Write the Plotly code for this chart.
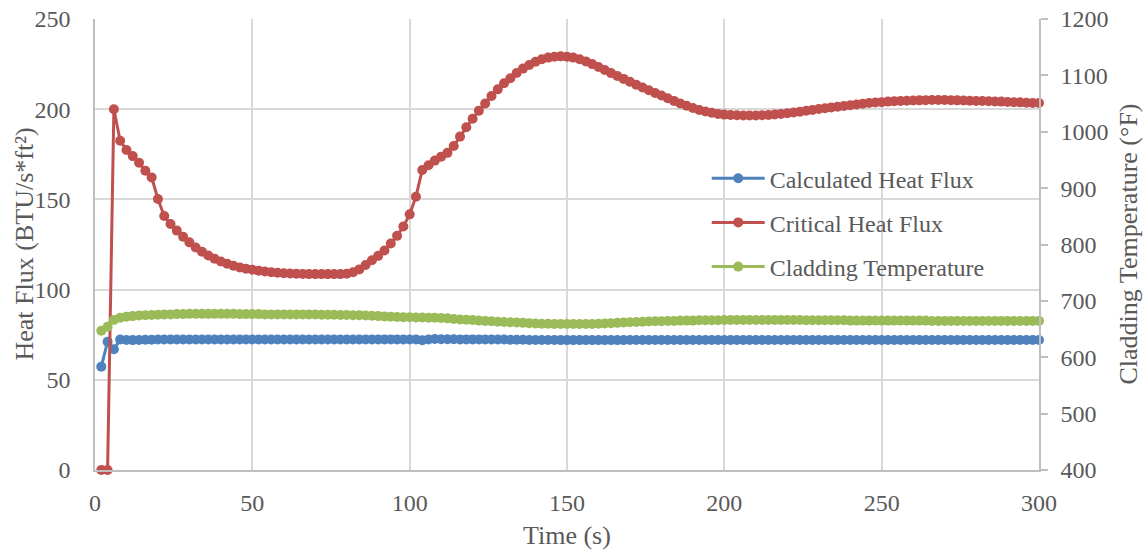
import plotly.graph_objects as go

# Time stamps (s), one sample every 2 s
time_s = list(range(2, 301, 2))

# Calculated heat flux (BTU/s*ft2)
calc_flux = [
    57.3, 71.1, 66.9, 72.3, 72.1, 72.0, 72.1, 72.2, 72.2, 72.3,
    72.3, 72.3, 72.3, 72.3, 72.3, 72.3, 72.3, 72.3, 72.3, 72.3,
    72.3, 72.3, 72.3, 72.3, 72.3, 72.3, 72.3, 72.3, 72.3, 72.3,
    72.3, 72.3, 72.3, 72.3, 72.3, 72.3, 72.3, 72.3, 72.3, 72.3,
    72.3, 72.3, 72.3, 72.4, 72.4, 72.4, 72.4, 72.4, 72.3, 72.3,
    72.3, 71.9, 72.4, 72.6, 72.5, 72.5, 72.5, 72.4, 72.4, 72.4,
    72.4, 72.4, 72.3, 72.3, 72.3, 72.2, 72.2, 72.2, 72.1, 72.1,
    72.1, 72.1, 72.1, 72.0, 72.0, 72.0, 72.0, 72.0, 72.0, 72.0,
    72.0, 72.0, 72.0, 72.0, 72.1, 72.1, 72.1, 72.1, 72.1, 72.1,
    72.1, 72.1, 72.1, 72.1, 72.1, 72.1, 72.1, 72.1, 72.1, 72.1,
    72.1, 72.1, 72.1, 72.1, 72.1, 72.1, 72.1, 72.1, 72.1, 72.1,
    72.1, 72.1, 72.1, 72.1, 72.1, 72.1, 72.1, 72.1, 72.1, 72.1,
    72.1, 72.1, 72.1, 72.1, 72.1, 72.1, 72.1, 72.1, 72.1, 72.1,
    72.1, 72.1, 72.1, 72.1, 72.1, 72.1, 72.1, 72.1, 72.1, 72.1,
    72.1, 72.1, 72.1, 72.1, 72.1, 72.1, 72.1, 72.1, 72.1, 72.1,
]

# Critical heat flux (BTU/s*ft2)
crit_flux = [
    0.0, 0.0, 200.0, 182.5, 177.4, 174.0, 170.3, 165.9, 162.2, 150.2,
    140.8, 136.4, 132.7, 129.3, 126.2, 123.3, 121.0, 118.9, 117.1, 115.6,
    114.3, 113.2, 112.3, 111.6, 111.0, 110.5, 110.0, 109.6, 109.3, 109.1,
    108.9, 108.8, 108.7, 108.6, 108.6, 108.6, 108.6, 108.6, 108.6, 108.8,
    109.6, 111.2, 113.6, 116.3, 118.7, 121.7, 125.6, 129.8, 135.0, 141.7,
    151.5, 166.3, 168.9, 171.5, 173.7, 175.8, 179.6, 184.8, 190.0, 194.7,
    199.2, 203.2, 207.3, 211.0, 214.4, 217.2, 220.1, 222.5, 224.5, 226.3,
    227.7, 228.6, 229.1, 229.3, 229.1, 228.6, 227.7, 226.5, 225.0, 223.4,
    221.7, 220.0, 218.4, 216.8, 215.2, 213.6, 212.0, 210.5, 209.0, 207.6,
    206.1, 204.6, 203.2, 201.9, 200.7, 199.6, 198.7, 198.0, 197.4, 197.0,
    196.8, 196.6, 196.5, 196.5, 196.5, 196.6, 196.8, 197.1, 197.4, 197.8,
    198.2, 198.6, 199.1, 199.6, 200.1, 200.5, 201.0, 201.4, 201.8, 202.2,
    202.6, 203.0, 203.4, 203.7, 203.9, 204.2, 204.4, 204.6, 204.7, 204.8,
    204.9, 205.0, 205.1, 205.1, 205.1, 205.0, 204.9, 204.8, 204.7, 204.6,
    204.5, 204.4, 204.3, 204.2, 204.0, 203.9, 203.8, 203.6, 203.5, 203.4,
]

# Cladding temperature (°F)
clad_temp = [
    647.0, 654.0, 666.0, 670.0, 672.0, 673.0, 674.0, 674.5, 675.0, 675.5,
    676.0, 676.0, 676.5, 676.5, 677.0, 677.0, 677.0, 677.0, 677.0, 677.0,
    677.0, 677.0, 676.5, 676.5, 676.5, 676.5, 676.0, 676.0, 676.0, 676.0,
    676.0, 676.0, 676.0, 676.0, 676.0, 675.5, 675.5, 675.5, 675.0, 675.0,
    674.5, 674.5, 674.0, 673.5, 673.0, 672.5, 672.0, 671.5, 671.0, 671.0,
    670.5, 670.5, 670.0, 670.0, 669.5, 669.0, 668.0, 667.0, 666.5, 666.0,
    665.0, 664.5, 664.0, 663.0, 662.5, 662.0, 661.5, 661.0, 660.5, 660.0,
    659.5, 659.5, 659.0, 659.0, 659.0, 659.0, 659.0, 659.0, 659.0, 659.5,
    660.0, 660.5, 661.0, 661.5, 662.0, 662.5, 663.0, 663.5, 664.0, 664.0,
    664.5, 664.5, 665.0, 665.0, 665.0, 665.5, 665.5, 665.5, 665.5, 666.0,
    666.0, 666.0, 666.0, 666.0, 666.0, 666.0, 666.0, 666.0, 666.0, 666.0,
    666.0, 666.0, 665.5, 665.5, 665.5, 665.5, 665.5, 665.5, 665.5, 665.0,
    665.0, 665.0, 665.0, 665.0, 665.0, 665.0, 665.0, 665.0, 665.0, 665.0,
    665.0, 665.0, 664.5, 664.5, 664.5, 664.5, 664.5, 664.5, 664.5, 664.5,
    664.5, 664.5, 664.5, 664.5, 664.5, 664.5, 664.5, 664.5, 664.5, 664.5,
]

# Axis titles
x_title = "Time (s)"
y_title = "Heat Flux (BTU/s*ft²)"
y2_title = "Cladding Temperature (°F)"

BLUE = "#4F81BD"
RED = "#C0504D"
GREEN = "#9BBB59"
TEXT = "#595959"
GRID = "#D9D9D9"
AXIS = "#BFBFBF"
FONT = "Liberation Serif, Times New Roman, serif"
FS = 24
TITLE_FS = 26

fig = go.Figure()


def add_series(name, y, color, axis):
    fig.add_trace(go.Scatter(
        x=time_s, y=y, name=name, yaxis=axis,
        mode="lines+markers",
        line=dict(color=color, width=3),
        marker=dict(color=color, size=10),
        cliponaxis=False,
        legendgroup=name,
    ))


add_series("Calculated Heat Flux", calc_flux, BLUE, "y")
add_series("Critical Heat Flux", crit_flux, RED, "y")
add_series("Cladding Temperature", clad_temp, GREEN, "y2")

title_font = dict(family=FONT, size=TITLE_FS, color=TEXT)

fig.update_layout(
    width=1146, height=554,
    margin=dict(l=95, r=107, t=19, b=84),
    paper_bgcolor="white", plot_bgcolor="white",
    font=dict(family=FONT, size=FS, color=TEXT),
    showlegend=True,
    legend=dict(
        x=0.648, y=0.696, xanchor="left", yanchor="top",
        bgcolor="rgba(0,0,0,0)", borderwidth=0,
        font=dict(family=FONT, size=FS, color=TEXT),
        traceorder="grouped", tracegroupgap=10, itemwidth=53,
    ),
    xaxis=dict(
        range=[0, 300], dtick=50, tick0=0, automargin=False,
        showgrid=True, gridcolor=GRID, gridwidth=1.5,
        showline=True, linecolor=AXIS, linewidth=1.5,
        zeroline=False, ticks="", ticklabelstandoff=10,
    ),
    yaxis=dict(
        range=[0, 250], dtick=50, tick0=0, automargin=False,
        showgrid=True, gridcolor=GRID, gridwidth=1.5,
        showline=True, linecolor=AXIS, linewidth=1.5,
        zeroline=False, ticks="", ticklabelstandoff=18,
    ),
    yaxis2=dict(
        range=[400, 1200], dtick=100, tick0=400, automargin=False,
        overlaying="y", side="right", anchor="x",
        showgrid=False, zeroline=False,
        showline=True, linecolor=AXIS, linewidth=1.5,
        ticks="outside", ticklen=7, tickcolor=AXIS, tickwidth=1.5,
        ticklabelstandoff=8,
    ),
    annotations=[
        dict(text=x_title, xref="paper", yref="paper", x=0.5, y=-0.146,
             xanchor="center", yanchor="middle", showarrow=False,
             font=title_font),
        dict(text=y_title, xref="paper", yref="paper", x=-0.0752, y=0.5,
             xanchor="center", yanchor="middle", textangle=-90,
             showarrow=False, font=title_font),
        dict(text=y2_title, xref="paper", yref="paper", x=1.0943, y=0.5,
             xanchor="center", yanchor="middle", textangle=-90,
             showarrow=False, font=title_font),
    ],
)

fig.write_html("out.html")
